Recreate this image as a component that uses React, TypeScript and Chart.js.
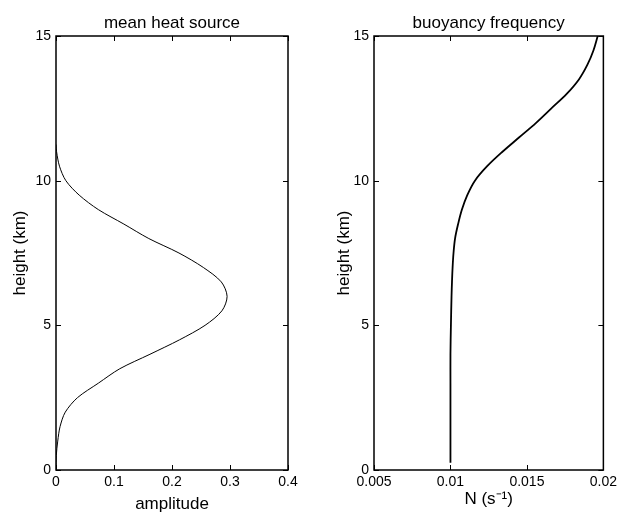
import React, { useEffect, useRef } from 'react';
import { Chart, registerables } from 'chart.js';

Chart.register(...registerables);

// ---- data ----
const heatHeight = [0, 0.5, 1.0, 1.5, 2.0, 2.5, 3.0, 3.5, 4.0, 4.5, 5.0, 5.5, 6.0, 6.5, 7.0, 7.5, 8.0, 8.5, 9.0, 9.5, 10.0, 10.5, 11.0, 11.25];
const heatAmp = [0, 0.0005, 0.003, 0.007, 0.016, 0.037, 0.073, 0.11, 0.162, 0.213, 0.257, 0.286, 0.295, 0.285, 0.254, 0.212, 0.16, 0.117, 0.073, 0.04, 0.017, 0.006, 0.001, 0];

const nHeight = [0.25, 1, 2, 3, 4, 5, 6, 6.5, 7, 7.5, 8, 8.5, 9, 9.5, 10, 10.5, 11, 11.5, 12, 12.5, 13, 13.5, 14, 14.5, 15];
const nFreq = [0.0100, 0.0100, 0.0100, 0.0100, 0.0100, 0.01003, 0.01007, 0.0101, 0.01014, 0.0102, 0.0103, 0.0105, 0.01075, 0.0111, 0.0116, 0.0124, 0.0134, 0.0145, 0.0156, 0.0166, 0.0176, 0.0184, 0.01895, 0.01935, 0.01963];

const heightTicks = [0, 5, 10, 15];
const heightTickLabels = ['0', '5', '10', '15'];
const ampTicks = [0, 0.1, 0.2, 0.3, 0.4];
const ampTickLabels = ['0', '0.1', '0.2', '0.3', '0.4'];
const nTicks = [0.005, 0.01, 0.015, 0.02];
const nTickLabels = ['0.005', '0.01', '0.015', '0.02'];

const FONT = '"Liberation Sans", Arial, Helvetica, sans-serif';

const framePlugin = {
  id: 'frame',
  afterDatasetsDraw(chart: any, _args: any, opts: any) {
    const { ctx, chartArea: a, scales } = chart;
    ctx.save();
    ctx.strokeStyle = '#000';
    ctx.lineWidth = 1.5;
    ctx.strokeRect(a.left, a.top, a.right - a.left, a.bottom - a.top);
    ctx.lineWidth = 1;
    const L = 5;
    ctx.beginPath();
    for (const v of opts.xTicks) {
      const px = Math.round(scales.x.getPixelForValue(v)) + 0.5;
      ctx.moveTo(px, a.bottom);
      ctx.lineTo(px, a.bottom - L);
      ctx.moveTo(px, a.top);
      ctx.lineTo(px, a.top + L);
    }
    for (const v of opts.yTicks) {
      const py = Math.round(scales.y.getPixelForValue(v)) + 0.5;
      ctx.moveTo(a.left, py);
      ctx.lineTo(a.left + L, py);
      ctx.moveTo(a.right, py);
      ctx.lineTo(a.right - L, py);
    }
    ctx.stroke();
    ctx.font = `17px ${FONT}`;
    ctx.fillStyle = '#000';
    ctx.textAlign = 'center';
    ctx.textBaseline = 'alphabetic';
    ctx.fillText(opts.title, (a.left + a.right) / 2, 28);
    ctx.restore();
  },
};

type PanelProps = {
  left: number;
  width: number;
  title: string;
  xLabel: string;
  xs: number[];
  ys: number[];
  xTicks: number[];
  xTickLabels: string[];
  yAxisWidth: number;
  rightPad: number;
  yTitlePad: number;
  xTitlePad: number;
  lineWidth: number;
  tension: number;
};

function Panel(p: PanelProps) {
  const ref = useRef<HTMLCanvasElement>(null);
  useEffect(() => {
    if (!ref.current) return;
    const data = p.xs.map((x, i) => ({ x, y: p.ys[i] }));
    const chart = new Chart(ref.current, {
      type: 'line',
      data: {
        datasets: [
          {
            data,
            borderColor: '#000',
            borderWidth: p.lineWidth,
            pointRadius: 0,
            fill: false,
            tension: p.tension,
          },
        ],
      },
      options: {
        responsive: false,
        animation: false,
        events: [],
        layout: { padding: { left: 0, right: p.rightPad, top: 36, bottom: 0 } },
        plugins: {
          legend: { display: false },
          tooltip: { enabled: false },
          title: { display: false },
          frame: { title: p.title, xTicks: p.xTicks, yTicks: heightTicks },
        } as any,
        scales: {
          x: {
            type: 'linear',
            position: 'bottom',
            min: p.xTicks[0],
            max: p.xTicks[p.xTicks.length - 1],
            grid: { display: false, drawTicks: false },
            border: { display: false },
            afterBuildTicks: (s: any) => {
              s.ticks = p.xTicks.map((v) => ({ value: v }));
            },
            afterFit: (s: any) => {
              s.height = 43;
            },
            ticks: {
              autoSkip: false,
              maxRotation: 0,
              minRotation: 0,
              padding: 4,
              color: '#000',
              font: { family: FONT, size: 14 },
              callback: (_v: any, i: number) => p.xTickLabels[i],
            },
            title: {
              display: true,
              text: p.xLabel,
              color: '#000',
              font: { family: FONT, size: 17, lineHeight: 1 },
              padding: { top: 0, bottom: p.xTitlePad },
            },
          },
          y: {
            type: 'linear',
            position: 'left',
            min: 0,
            max: 15,
            grid: { display: false, drawTicks: false },
            border: { display: false },
            afterBuildTicks: (s: any) => {
              s.ticks = heightTicks.map((v) => ({ value: v }));
            },
            afterFit: (s: any) => {
              s.width = p.yAxisWidth;
            },
            ticks: {
              autoSkip: false,
              padding: 5,
              color: '#000',
              font: { family: FONT, size: 14 },
              callback: (_v: any, i: number) => heightTickLabels[i],
            },
            title: {
              display: true,
              text: 'height (km)',
              color: '#000',
              font: { family: FONT, size: 17, lineHeight: 1 },
              padding: { top: p.yTitlePad, bottom: 0 },
            },
          },
        },
      },
      plugins: [framePlugin as any],
    });
    return () => chart.destroy();
  }, []);
  return (
    <canvas
      ref={ref}
      width={p.width}
      height={513}
      style={{ position: 'absolute', left: p.left, top: 0, width: p.width, height: 513 }}
    />
  );
}

export default function App() {
  return (
    <div style={{ position: 'absolute', left: 0, top: 0, width: 621, height: 513, background: '#fff' }}>
      <Panel
        left={0}
        width={310}
        title="mean heat source"
        xLabel="amplitude"
        xs={heatAmp}
        ys={heatHeight}
        xTicks={ampTicks}
        xTickLabels={ampTickLabels}
        yAxisWidth={56}
        rightPad={22}
        yTitlePad={12}
        xTitlePad={0}
        lineWidth={1}
        tension={0.3}
      />
      <Panel
        left={310}
        width={311}
        title="buoyancy frequency"
        xLabel="N (s⁻¹)"
        xs={nFreq}
        ys={nHeight}
        xTicks={nTicks}
        xTickLabels={nTickLabels}
        yAxisWidth={64}
        rightPad={15}
        yTitlePad={26}
        xTitlePad={5}
        lineWidth={1.8}
        tension={0.35}
      />
    </div>
  );
}
